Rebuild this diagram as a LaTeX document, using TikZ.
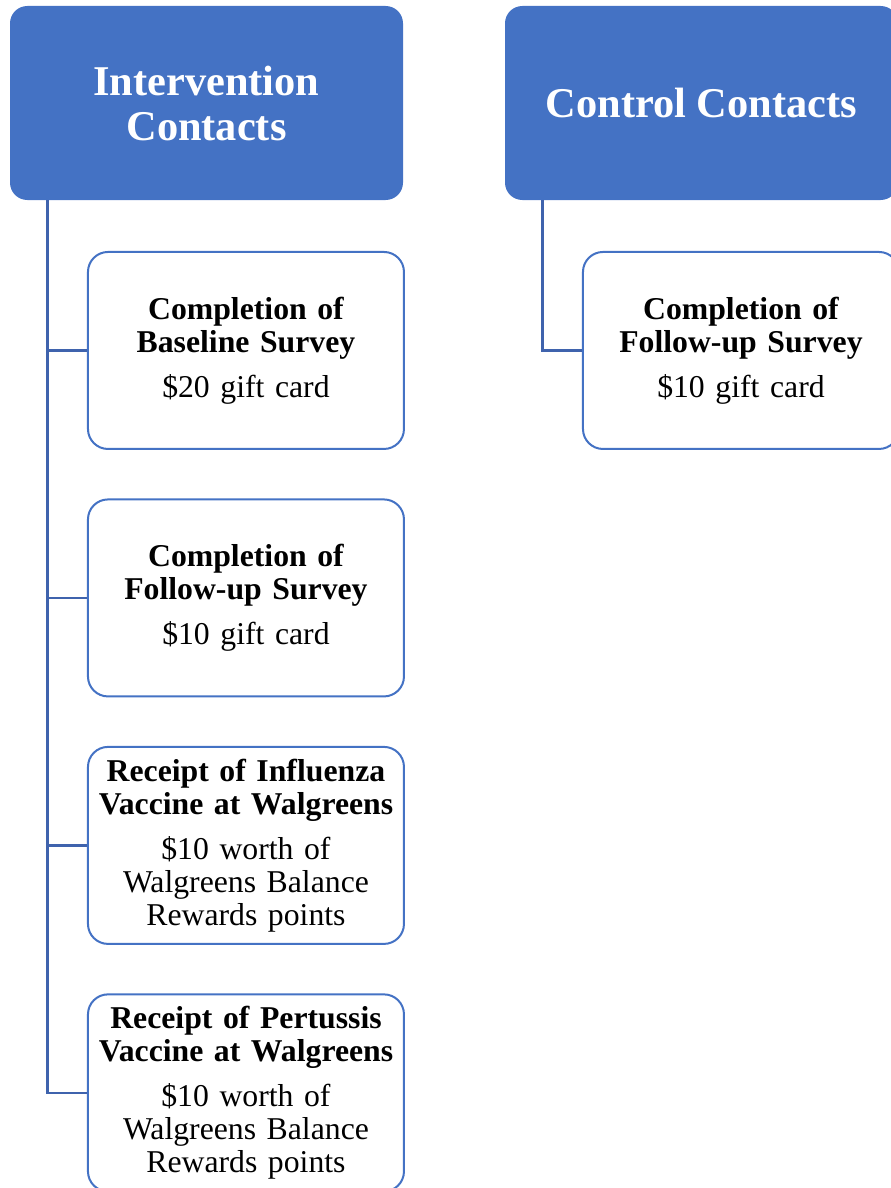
\documentclass[tikz,border=0pt]{standalone}
\usepackage{fontspec}
\setmainfont{Liberation Serif}
\usetikzlibrary{positioning}

\definecolor{headblue}{HTML}{4472C4}
\definecolor{linkblue}{HTML}{3F63AD}

\tikzset{
  head/.style={rectangle, rounded corners=13pt, fill=headblue, text=white,
    minimum width=294.75pt, minimum height=145.5pt, align=center,
    font=\fontsize{31.8}{33.75}\selectfont\bfseries},
  item/.style={rectangle, rounded corners=15pt, draw=headblue, line width=1.5pt,
    fill=white, minimum width=237pt, minimum height=147.75pt, text width=225pt,
    inner xsep=6pt, align=center, font=\fontsize{23.8}{24.75}\selectfont},
  link/.style={draw=linkblue, line width=1.9pt}
}

\begin{document}
\begin{tikzpicture}[%
x=0.75pt, y=-0.75pt,
node distance=185.6pt and 29.6pt,
on grid
]
\useasboundingbox (0,0) rectangle (891,1188);

\node[head] (intv) at (206.5,103) {Intervention\\Contacts};
\node[head] (ctrl) at (701.5,103) {Control Contacts};

\node[item] (base) [below right=of intv] {\textbf{Completion of\\Baseline Survey}\\[9pt]\$20 gift card};
\node[item] (fup) [below=of base] {\textbf{Completion of\\Follow-up Survey}\\[9pt]\$10 gift card};
\node[item] (flu) [below=of fup] {\textbf{Receipt of Influenza\\Vaccine at Walgreens}\\[9pt]\$10 worth of\\Walgreens Balance\\Rewards points};
\node[item] (pert) [below=of flu] {\textbf{Receipt of Pertussis\\Vaccine at Walgreens}\\[9pt]\$10 worth of\\Walgreens Balance\\Rewards points};

\node[item] (cfup) [below right=of ctrl] {\textbf{Completion of\\Follow-up Survey}\\[9pt]\$10 gift card};

% bus lines
\coordinate (tapL) at ([xshift=28.5pt]intv.south west);
\coordinate (tapR) at ([xshift=28.5pt]ctrl.south west);

\draw[link] (tapL) |- (pert.west);
\draw[link] (tapL |- base.west) -- (base.west);
\draw[link] (tapL |- fup.west) -- (fup.west);
\draw[link] (tapL |- flu.west) -- (flu.west);
\draw[link] (tapR) |- (cfup.west);
\end{tikzpicture}
\end{document}
